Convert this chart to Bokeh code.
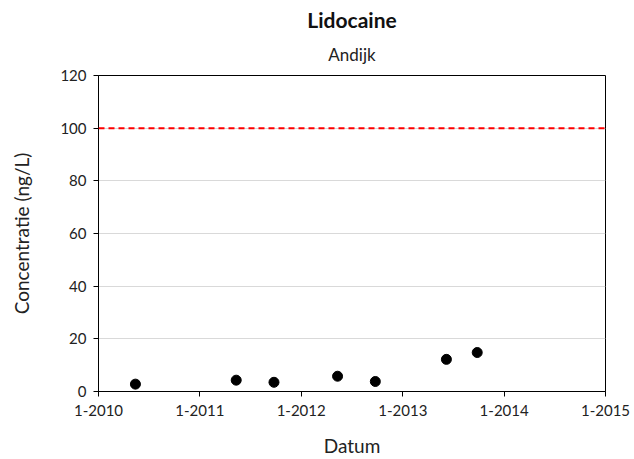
import pandas as pd
from bokeh.plotting import figure
from bokeh.models import FixedTicker, DatetimeTickFormatter, Span, ColumnDataSource, Range1d, Title
from bokeh.embed import file_html
from bokeh.resources import INLINE

dates = ["2010-05-14", "2011-05-12", "2011-09-25", "2012-05-11", "2012-09-24", "2013-06-07", "2013-09-26"]
values = [2.8, 4.3, 3.5, 5.8, 3.8, 12.2, 14.8]
tick_years = ["2010-01-01", "2011-01-01", "2012-01-01", "2013-01-01", "2014-01-01", "2015-01-01"]
y_ticks = [0, 20, 40, 60, 80, 100, 120]
limit_value = 100

FONT = "Lato"

src = ColumnDataSource(dict(x=pd.to_datetime(dates), y=values))
tx = [pd.Timestamp(t).value / 1e6 for t in tick_years]

p = figure(width=634, height=459, x_axis_type="datetime", output_backend="svg",
           toolbar_location=None, min_border_left=98, min_border_right=29,
           min_border_top=75, min_border_bottom=68)
p.x_range = Range1d(tx[0], tx[-1])
p.y_range = Range1d(0, 120)

p.title.text = "Lidocaine"
p.title.align = "center"
p.title.text_font = FONT
p.title.text_font_size = "21px"
p.title.text_font_style = "bold"
p.title.text_color = "#111111"
p.title.standoff = 0
p.add_layout(Title(text="Andijk", align="center", text_font=FONT, text_font_size="17px",
                   text_font_style="normal", text_color="#222222", standoff=21), "above")

p.scatter("x", "y", source=src, size=10, color="black")
p.add_layout(Span(location=limit_value, dimension="width", line_color="red",
                  line_dash="6 4", line_width=2))

p.xaxis.ticker = FixedTicker(ticks=tx)
fmt = "1-%Y"
p.xaxis.formatter = DatetimeTickFormatter(years=fmt, months=fmt, days=fmt, hours=fmt,
                                          minutes=fmt, seconds=fmt, milliseconds=fmt,
                                          microseconds=fmt, hourmin=fmt, minsec=fmt)
p.yaxis.ticker = FixedTicker(ticks=y_ticks)
for ax in (p.xaxis, p.yaxis):
    ax.minor_tick_line_color = None
    ax.major_tick_in = 0
    ax.major_tick_out = 5
    ax.axis_line_color = "black"
    ax.major_tick_line_color = "black"
    ax.major_label_text_font = FONT
    ax.major_label_text_font_size = "15px"
    ax.major_label_text_color = "#222222"
    ax.axis_label_text_font = FONT
    ax.axis_label_text_font_size = "19px"
    ax.axis_label_text_font_style = "normal"
    ax.axis_label_text_color = "#222222"
p.xaxis.axis_label = "Datum"
p.yaxis.axis_label = "Concentratie (ng/L)"
p.xaxis.major_label_standoff = 8
p.xaxis.axis_label_standoff = 15
p.yaxis.axis_label_standoff = 24
p.yaxis.major_label_standoff = 7

p.xgrid.grid_line_color = None
p.ygrid.grid_line_color = "#d9d9d9"
p.outline_line_color = "black"
p.outline_line_alpha = 1

open("out.html", "w").write(file_html(p, INLINE))
